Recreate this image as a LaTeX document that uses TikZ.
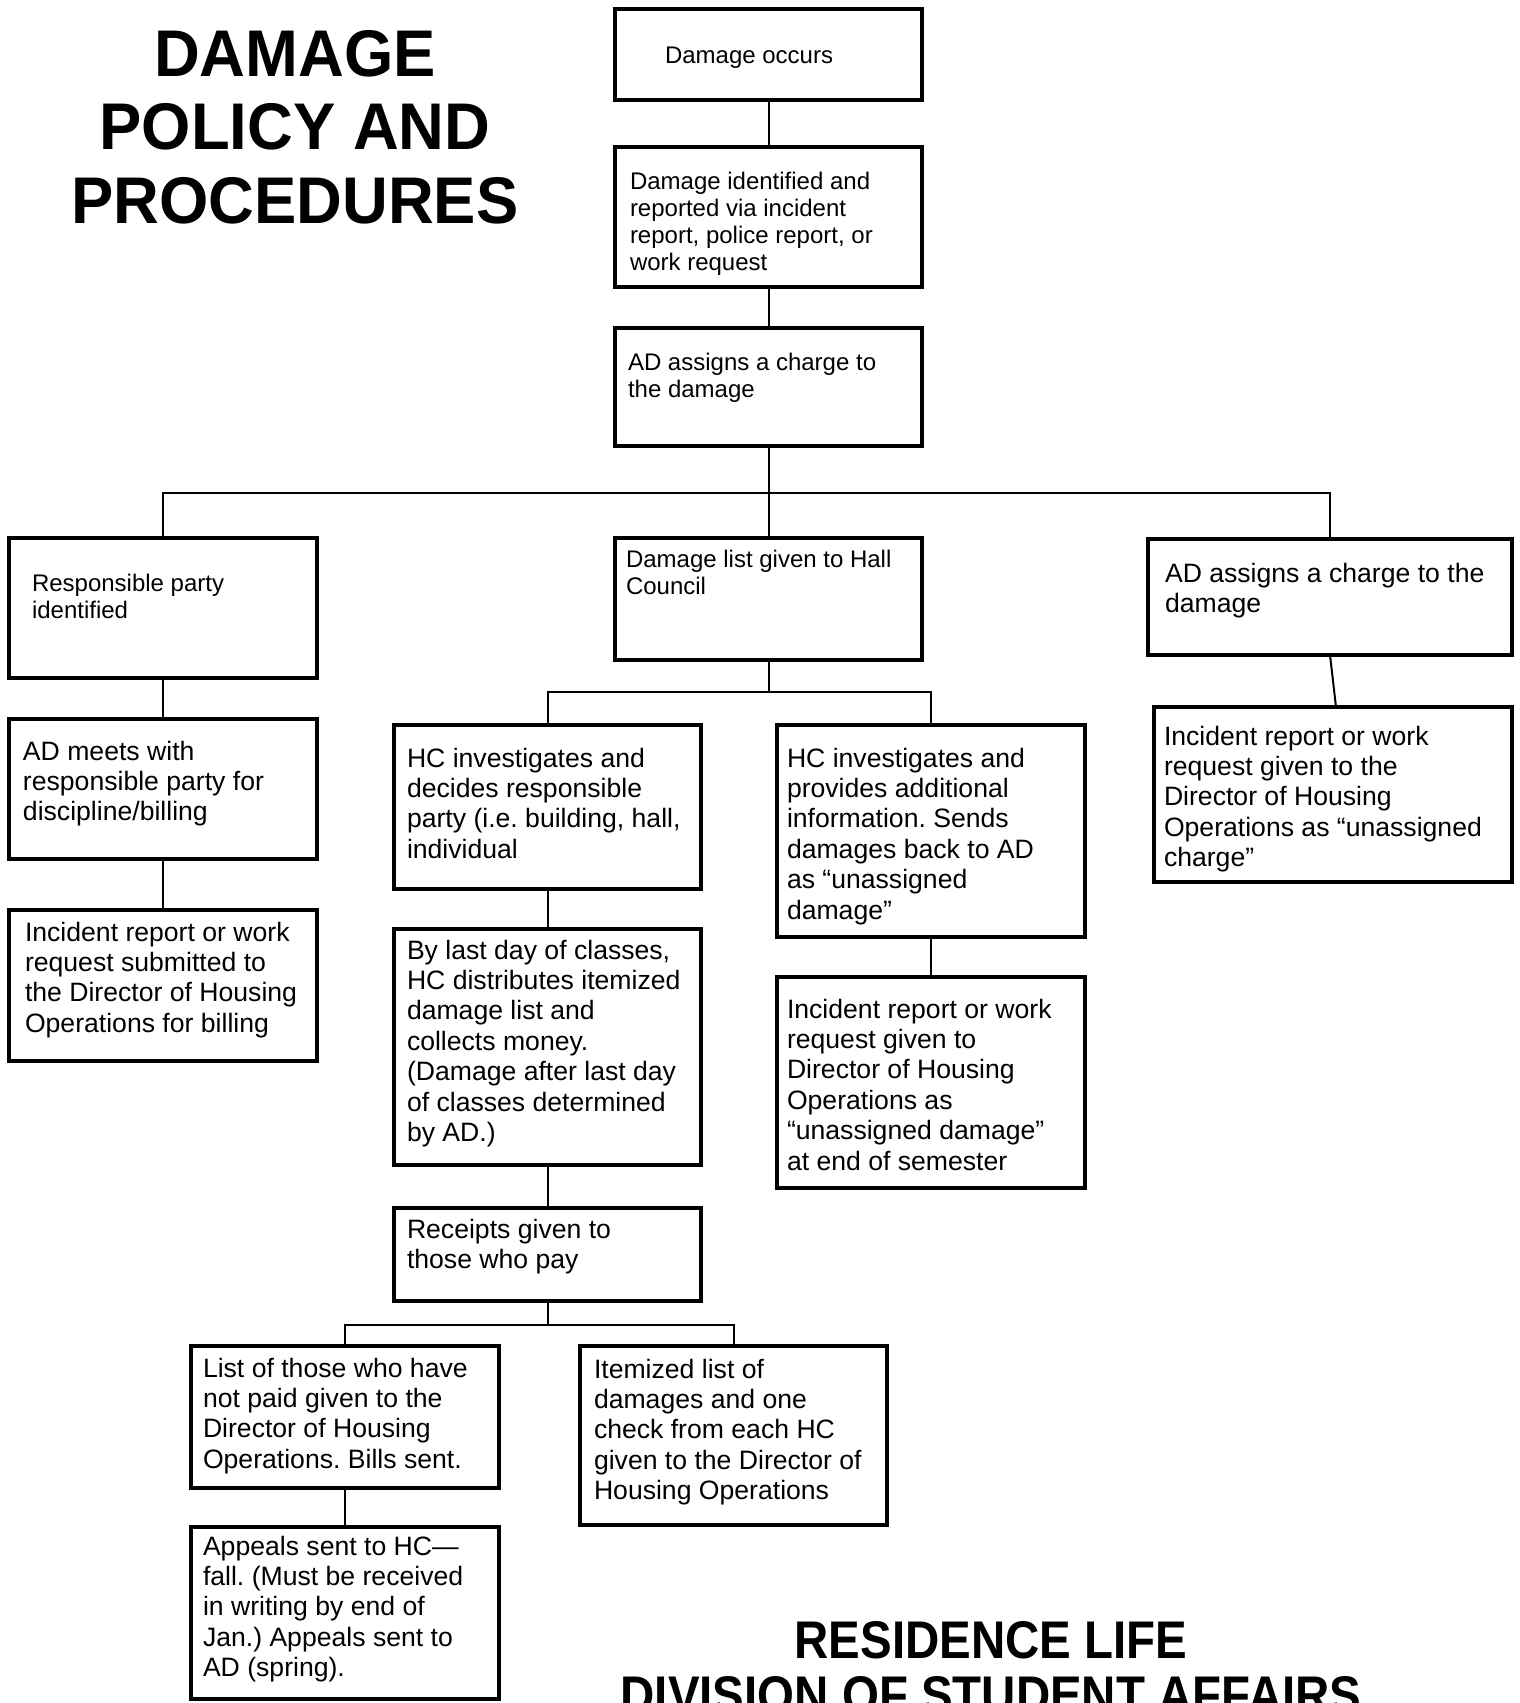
\documentclass[tikz,border=0pt]{standalone}
\usepackage{fontspec}
\setmainfont{Liberation Sans}
\frenchspacing
\newcommand\bx[5]{\node[box, minimum width=#4-#2, minimum height=#5-#3] (#1) at (#2,#3) {};}
\newcommand\smt[4]{\node[smtxt] (#1) at (#2,#3-20) {\rule{0pt}{20pt}#4};}
\newcommand\bgt[4]{\node[bigtxt] (#1) at (#2,#3-22) {\rule{0pt}{22pt}#4};}
\begin{document}
\begin{tikzpicture}[x=1pt,y=-1pt,
  box/.style={draw, line width=3.3pt, rectangle, inner sep=0, outer sep=0, anchor=north west},
  conn/.style={line width=2pt},
  smtxt/.style={inner sep=0, outer sep=0, anchor=north west, align=left, font=\fontsize{24}{27.3}\selectfont},
  bigtxt/.style={inner sep=0, outer sep=0, anchor=north west, align=left, font=\fontsize{26.6}{30.4}\selectfont}]
\path[use as bounding box, fill=white] (0,0) rectangle (1520,1703);
\clip (0,0) rectangle (1520,1703);

% boxes
\bx{b1}{615}{9}{922}{100}
\bx{b2}{615}{147}{922}{287}
\bx{b3}{615}{328}{922}{446}
\bx{b4}{9}{538}{317}{678}
\bx{b5}{615}{538}{922}{660}
\bx{b6}{1148}{539}{1512}{655}
\bx{b7}{9}{719}{317}{859}
\bx{b8}{9}{910}{317}{1061}
\bx{b9}{394}{725}{701}{889}
\bx{b10}{777}{725}{1085}{937}
\bx{b11}{394}{929}{701}{1165}
\bx{b12}{777}{977}{1085}{1188}
\bx{b13}{394}{1208}{701}{1301}
\bx{b14}{191}{1346}{499}{1488}
\bx{b15}{580}{1346}{887}{1525}
\bx{b16}{191}{1527}{499}{1699}
\bx{b17}{1154}{707}{1512}{882}

% junctions
\coordinate (j1) at (768.5,493);
\coordinate (j2) at (768.5,692);
\coordinate (j3) at (547.5,1325);

% connectors
\draw[conn] (b1.south) -- (b2.north);
\draw[conn] (b2.south) -- (b3.north);
\draw[conn] (b3.south) -- (j1);
\draw[conn] (j1) -- (b5.north);
\draw[conn] (b4.north) |- (j1) -| (b6.north);
\draw[conn] (b6.south) -- ([xshift=3pt]b17.north);
\draw[conn] (b4.south) -- (b7.north);
\draw[conn] (b7.south) -- (b8.north);
\draw[conn] (b5.south) -- (j2);
\draw[conn] (b9.north) |- (j2) -| (b10.north);
\draw[conn] (b9.south) -- (b11.north);
\draw[conn] (b11.south) -- (b13.north);
\draw[conn] (b10.south) -- (b12.north);
\draw[conn] (b13.south) -- (j3);
\draw[conn] (b14.north) |- (j3) -| (b15.north);
\draw[conn] (b14.south) -- (b16.north);

% texts
\smt{t1}{665}{63}{Damage occurs}
\smt{t2}{630}{189}{Damage identified and\\reported via incident\\report, police report, or\\work request}
\smt{t3}{628}{370}{AD assigns a charge to\\the damage}
\smt{t4}{32}{591}{Responsible party\\identified}
\smt{t5}{626}{567}{Damage list given to Hall\\Council}
\bgt{t6}{1165}{582}{AD assigns a charge to the\\damage}
\bgt{t7}{23}{760}{AD meets with\\responsible party for\\discipline/billing}
\bgt{t8}{25}{941}{Incident report or work\\request submitted to\\the Director of Housing\\Operations for billing}
\bgt{t9}{407}{767}{HC investigates and\\decides responsible\\party (i.e. building, hall,\\individual}
\bgt{t10}{787}{767}{HC investigates and\\provides additional\\information. Sends\\damages back to AD\\as “unassigned\\damage”}
\bgt{t11}{407}{959}{By last day of classes,\\HC distributes itemized\\damage list and\\collects money.\\(Damage after last day\\of classes determined\\by AD.)}
\bgt{t12}{787}{1018}{Incident report or work\\request given to\\Director of Housing\\Operations as\\“unassigned damage”\\at end of semester}
\bgt{t13}{407}{1238}{Receipts given to\\those who pay}
\bgt{t14}{203}{1377}{List of those who have\\not paid given to the\\Director of Housing\\Operations. Bills sent.}
\bgt{t15}{594}{1378}{Itemized list of\\damages and one\\check from each HC\\given to the Director of\\Housing Operations}
\bgt{t16}{203}{1555}{Appeals sent to HC—\\fall. (Must be received\\in writing by end of\\Jan.) Appeals sent to\\AD (spring).}
\bgt{t17}{1164}{745}{Incident report or work\\request given to the\\Director of Housing\\Operations as “unassigned\\charge”}

% titles
\node[font=\bfseries\fontsize{66}{73.5}\selectfont, align=center, inner sep=0, anchor=north] (title) at (295,76-52)
  {\rule{0pt}{52pt}\scalebox{.96}[1]{DAMAGE}\\\scalebox{.96}[1]{POLICY AND}\\\scalebox{.96}[1]{PROCEDURES}};
\node[font=\bfseries\fontsize{53}{55}\selectfont, align=center, inner sep=0, anchor=north] (foot) at (991,1658-42)
  {\rule{0pt}{42pt}\scalebox{.895}[1]{RESIDENCE LIFE}\\\scalebox{.895}[1]{DIVISION OF STUDENT AFFAIRS}};
\end{tikzpicture}
\end{document}
